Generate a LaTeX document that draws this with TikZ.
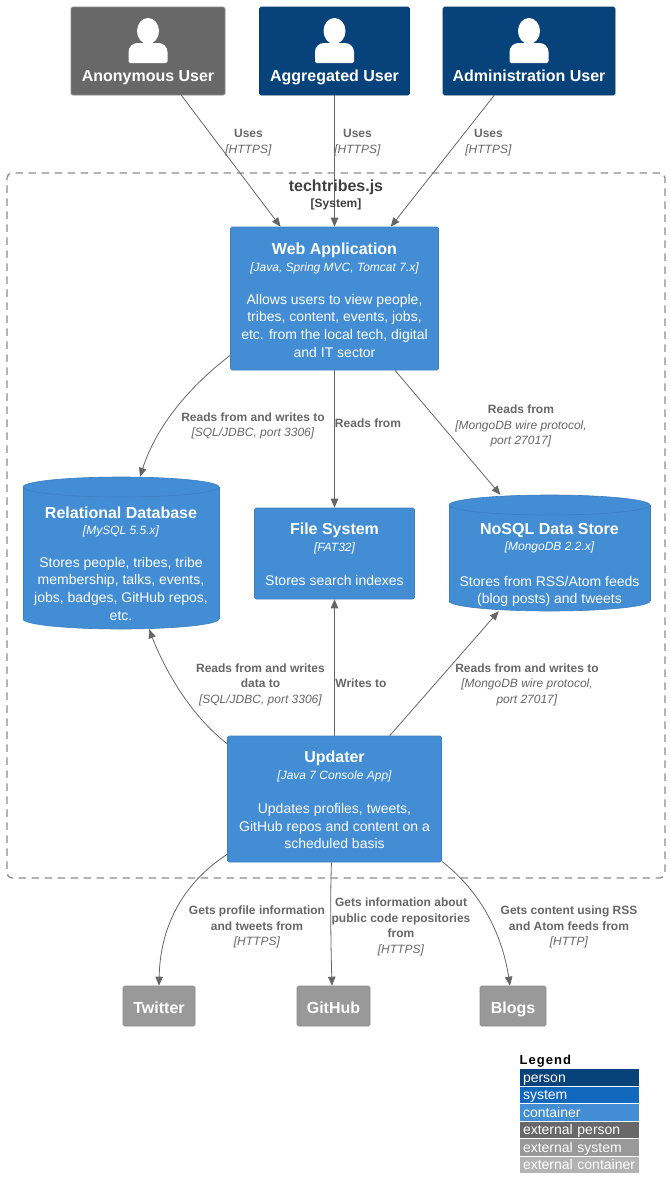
\documentclass[tikz,border=0pt]{standalone}
\usepackage{fontspec}
\setmainfont{Liberation Sans}
\usetikzlibrary{arrows.meta}
\definecolor{personC}{HTML}{08427B}
\definecolor{personB}{HTML}{073B6F}
\definecolor{systemC}{HTML}{1168BD}
\definecolor{contC}{HTML}{438DD5}
\definecolor{contB}{HTML}{3C7FC0}
\definecolor{anonC}{HTML}{686868}
\definecolor{anonB}{HTML}{8A8A8A}
\definecolor{extC}{HTML}{999999}
\definecolor{extB}{HTML}{8A8A8A}
\definecolor{extcC}{HTML}{B3B3B3}
\definecolor{lineC}{HTML}{666666}
\definecolor{lblC}{HTML}{666666}
\definecolor{bndC}{HTML}{8C8C8C}
\newcommand{\titlef}{\fontsize{16}{18}\selectfont\bfseries}
\newcommand{\subf}{\fontsize{12}{15}\selectfont\itshape}
\newcommand{\bodyf}{\fontsize{14}{17.6}\selectfont}
\newcommand{\mlines}[1]{\begin{tabular}{@{}c@{}}#1\end{tabular}}
\newcommand{\boxtext}[4]{\rule{0pt}{#1pt}{\titlef #2}\\[4pt]{\subf #3}\\[17pt]{\bodyf\mlines{#4}}}
\newcommand{\lb}[1]{\textbf{#1}}
\newcommand{\li}[1]{\textit{#1}}
\newcommand{\lbl}[1]{{\fontsize{12}{15.5}\selectfont\mlines{#1}}}
\newcommand{\cyl}[4]{% cx top bottom halfwidth
  \fill[contC] (#1-#4,#2+10) arc[x radius=#4,y radius=10,start angle=180,end angle=360] -- (#1+#4,#3-10) arc[x radius=#4,y radius=10,start angle=0,end angle=180] -- cycle;
  \draw[contB,line width=.6pt] (#1-#4,#3-10) arc[x radius=#4,y radius=10,start angle=180,end angle=0];
  \draw[contB,line width=.6pt] (#1-#4,#2+10) arc[x radius=#4,y radius=10,start angle=180,end angle=360];
  \draw[contB,line width=.6pt] (#1-#4,#2+10) arc[x radius=#4,y radius=10,start angle=180,end angle=0];
  \draw[contB,line width=.6pt] (#1-#4,#2+10) -- (#1-#4,#3-10) (#1+#4,#2+10) -- (#1+#4,#3-10);}
\newcommand{\persona}[2]{% cx cy
  \fill[white] (#1,#2-12) ellipse[x radius=11,y radius=13];
  \fill[white] (#1-19.5,#2+20) [rounded corners=2pt] -- (#1-19.5,#2+10) [rounded corners=9pt] -- (#1-19.5,#2) -- (#1+19.5,#2) [rounded corners=2pt] -- (#1+19.5,#2+20) -- cycle;}
\tikzset{
  boxbase/.style={rectangle,rounded corners=1.5pt,line width=.6pt,align=center,text=white,inner sep=0pt},
  personbox/.style={boxbase,fill=personC,draw=personB},
  anonbox/.style={boxbase,fill=anonC,draw=anonB},
  contbox/.style={boxbase,fill=contC,draw=contB},
  extbox/.style={boxbase,fill=extC,draw=extB,font=\titlef,text height=14pt,text depth=0pt},
  cylbox/.style={rectangle,align=center,text=white,inner sep=0pt},
  rel/.style={draw=lineC,line width=.8pt,-{Stealth[length=9pt,width=7.5pt,inset=0pt]}},
  elabel/.style={align=center,text=lblC,inner sep=0pt},
  persontext/.style={inner sep=0pt,text=white,font=\titlef,anchor=base},
  legrow/.style={rectangle,minimum width=120.5pt,minimum height=17.5pt,inner sep=0pt,draw=white,line width=.5pt,text=white,anchor=north west,font=\fontsize{14}{16}\selectfont,align=left,text width=118pt,text height=13pt,text depth=3pt,execute at begin node=\hspace*{3pt}},
}
\begin{document}
\begin{tikzpicture}[x=1pt,y=-1pt]
\useasboundingbox (0,0) rectangle (671,1200);
% boundary
\node[rectangle,rounded corners=5pt,draw=bndC,line width=1.3pt,dash pattern=on 7.5pt off 5.5pt,minimum width=658pt,minimum height=705pt,inner sep=0pt] (bnd) at (336,525.5) {};
% persons
\node[anonbox,minimum width=154pt,minimum height=88pt] (anon) at (148,51) {};
\node[personbox,minimum width=150pt,minimum height=88pt] (agg) at (334.5,51) {};
\node[personbox,minimum width=172pt,minimum height=88pt] (admin) at (529,51) {};
\persona{148}{43}
\persona{334.5}{43}
\persona{529}{43}
\node[persontext] (anont) at (148,81.5) {Anonymous User};
\node[persontext] (aggt) at (334.5,81.5) {Aggregated User};
\node[persontext] (admint) at (529,81.5) {Administration User};
% cylinders
\cyl{121}{477}{629}{98}
\cyl{549.5}{495}{611}{100.5}
% containers
\node[contbox,minimum width=208pt,minimum height=143pt] (web) at (334.5,298.5) {\boxtext{20}{Web Application}{[Java, Spring MVC, Tomcat 7.x]}{Allows users to view people,\\tribes, content, events, jobs,\\etc. from the local tech, digital\\and IT sector}};
\node[contbox,minimum width=160pt,minimum height=91pt] (file) at (334.5,553.5) {\boxtext{19}{File System}{[FAT32]}{\rule{0pt}{13.5pt}Stores search indexes}};
\node[cylbox,minimum width=196pt,minimum height=152pt] (rdb) at (121,553) {\boxtext{38}{Relational Database}{[MySQL 5.5.x]}{Stores people, tribes, tribe\\membership, talks, events,\\jobs, badges, GitHub repos,\\etc.}};
\node[cylbox,minimum width=201pt,minimum height=116pt] (nosql) at (549.5,553) {\boxtext{38}{NoSQL Data Store}{[MongoDB 2.2.x]}{\rule{0pt}{15pt}Stores from RSS/Atom feeds\\(blog posts) and tweets}};
\node[contbox,minimum width=214pt,minimum height=126pt] (upd) at (334.5,799) {\boxtext{19}{Updater}{[Java 7 Console App]}{\rule{0pt}{13.5pt}Updates profiles, tweets,\\GitHub repos and content on a\\scheduled basis}};
% externals
\node[extbox,minimum width=72pt,minimum height=40pt] (tw) at (159,1006) {Twitter};
\node[extbox,minimum width=73pt,minimum height=40pt] (gh) at (333.5,1006) {GitHub};
\node[extbox,minimum width=66pt,minimum height=40pt] (bl) at (513,1006) {Blogs};
% connectors
\draw[rel] (anon) -- (web);
\draw[rel] (agg) -- (web);
\draw[rel] (admin) -- (web);
\draw[rel] (web) -- (file);
\draw[rel] (web) -- (nosql);
\draw[rel] (upd) -- (file);
\draw[rel] (upd) -- (nosql);
\draw[rel] ([yshift=15pt]web.south west) .. controls (185,390) and (155,430) .. ([xshift=19pt]rdb.north);
\draw[rel] ([yshift=-8pt]upd.north west) .. controls (190,715) and (165,670) .. ([xshift=28pt]rdb.south);
\draw[rel] ([yshift=8pt]upd.south west) .. controls (180,885) and (160,930) .. (tw.north);
\draw[rel] ([xshift=-3pt]upd.south) .. controls (330,900) and (331,950) .. ([xshift=-1.5pt]gh.north);
\draw[rel] ([yshift=1pt]upd.south east) .. controls (485,895) and (503,940) .. ([xshift=-3pt]bl.north);
% boundary title
\node[inner sep=0pt,align=center,text=black!75] (bndt) at (336,195) {{\titlef techtribes.js}\\[3pt]{\fontsize{12}{15}\selectfont\bfseries [System]}};
% labels
\node[elabel] (l1) at (248.5,142.5) {\lbl{\lb{Uses}\\\li{[HTTPS]}}};
\node[elabel] (l2) at (357.5,142.5) {\lbl{\lb{Uses}\\\li{[HTTPS]}}};
\node[elabel] (l3) at (488.5,142.5) {\lbl{\lb{Uses}\\\li{[HTTPS]}}};
\node[elabel] (l4) at (253,426) {\lbl{\lb{Reads from and writes to}\\\li{[SQL/JDBC, port 3306]}}};
\node[elabel] (l5) at (368,424.5) {\lbl{\lb{Reads from}}};
\node[elabel] (l6) at (521,426) {\lbl{\lb{Reads from}\\\li{[MongoDB wire protocol,}\\\li{port 27017]}}};
\node[elabel] (l7) at (260.5,684.5) {\lbl{\lb{Reads from and writes}\\\lb{data to}\\\li{[SQL/JDBC, port 3306]}}};
\node[elabel] (l8) at (361,684) {\lbl{\lb{Writes to}}};
\node[elabel] (l9) at (527,684.5) {\lbl{\lb{Reads from and writes to}\\\li{[MongoDB wire protocol,}\\\li{port 27017]}}};
\node[elabel] (l10) at (257,927) {\lbl{\lb{Gets profile information}\\\lb{and tweets from}\\\li{[HTTPS]}}};
\node[elabel] (l11) at (401,927) {\lbl{\lb{Gets information about}\\\lb{public code repositories}\\\lb{from}\\\li{[HTTPS]}}};
\node[elabel] (l12) at (569,927) {\lbl{\lb{Gets content using RSS}\\\lb{and Atom feeds from}\\\li{[HTTP]}}};
% legend
\node[inner sep=0pt,anchor=west,font=\fontsize{13}{15}\selectfont\bfseries,text=black] (legt) at (519.5,1061) {\addfontfeature{LetterSpace=8}Legend};
\node[legrow,fill=personC] (lg1) at (518.5,1068) {person};
\node[legrow,fill=systemC] (lg2) at (518.5,1085.5) {system};
\node[legrow,fill=contC] (lg3) at (518.5,1103) {container};
\node[legrow,fill=anonC] (lg4) at (518.5,1120.5) {external person};
\node[legrow,fill=extC] (lg5) at (518.5,1138) {external system};
\node[legrow,fill=extcC] (lg6) at (518.5,1155.5) {external container};
\end{tikzpicture}
\end{document}
